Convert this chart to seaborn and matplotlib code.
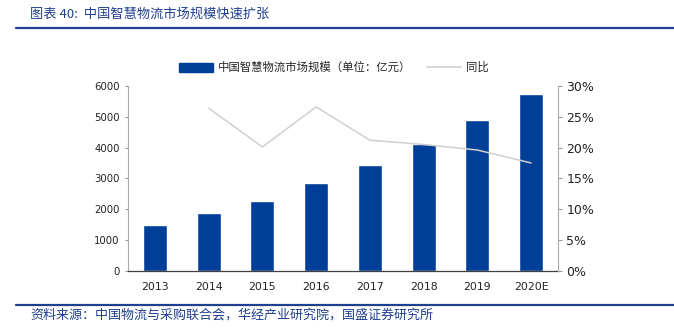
import numpy as np
import pandas as pd
import matplotlib
matplotlib.use("Agg")
import matplotlib.pyplot as plt
import seaborn as sns
from matplotlib.patches import Patch
from matplotlib.lines import Line2D
from matplotlib.ticker import FuncFormatter, FixedLocator

years = ["2013", "2014", "2015", "2016", "2017", "2018", "2019", "2020E"]
market = [1500, 1890, 2250, 2840, 3420, 4110, 4900, 5750]
yoy_years = ["2014", "2015", "2016", "2017", "2018", "2019", "2020E"]
yoy = [26.4, 20.1, 26.6, 21.2, 20.5, 19.6, 17.5]

title = "图表 40:  中国智慧物流市场规模快速扩张"
bar_label = "中国智慧物流市场规模（单位：亿元）"
line_label = "同比"
source = "资料来源：中国物流与采购联合会，华经产业研究院，国盛证券研究所"

sns.set_theme(style="white")
plt.rcParams['font.family'] = ['DejaVu Sans', 'Noto Sans CJK SC']

BAR = "#003F98"
LINE = "#D0D0D0"
HEAD = "#1F3F8F"

fig = plt.figure(figsize=(6.74, 3.32), dpi=100)
ax = fig.add_axes([128/674, 1-270.7/332, 430/674, (270.7-86)/332])

df = pd.DataFrame({"year": years, "value": market})
sns.barplot(data=df, x="year", y="value", color=BAR, width=0.45, ax=ax, saturation=1)
ax.set_xlim(-0.5, len(years)-0.5)
ax.set_ylim(0, 6000)
ax.set_yticks(np.arange(0, 6001, 1000))
ax.set_xlabel("")
ax.set_ylabel("")
ax.tick_params(axis="y", labelsize=7.3, length=2, width=0.8, color="#999999", direction="out", pad=4, labelcolor="#222222")
ax.tick_params(axis="x", which="major", labelsize=7.8, length=0, pad=8, labelcolor="#222222")
ax.xaxis.set_minor_locator(FixedLocator(np.arange(-0.5, len(years), 1.0)))
ax.tick_params(axis="x", which="minor", length=3, width=0.8, color="#999999", direction="in")
ax.spines["top"].set_visible(False)
ax.spines["left"].set_color("#AAAAAA")
ax.spines["left"].set_linewidth(0.8)
ax.spines["right"].set_visible(False)
ax.spines["bottom"].set_color("#404040")
ax.spines["bottom"].set_linewidth(0.9)

ax2 = ax.twinx()
ldf = pd.DataFrame({"pos": [years.index(y) for y in yoy_years], "yoy": yoy})
sns.lineplot(data=ldf, x="pos", y="yoy", color=LINE, linewidth=1.1, ax=ax2)
ax2.set_ylim(0, 30)
ax2.set_xlim(-0.5, len(years)-0.5)
ax2.set_yticks(np.arange(0, 31, 5))
ax2.yaxis.set_major_formatter(FuncFormatter(lambda v, p: f"{int(v)}%"))
ax2.set_ylabel("")
ax2.tick_params(axis="y", labelsize=9, length=3, width=0.8, color="#999999", direction="out", pad=3, labelcolor="#222222")
for s in ["top", "left", "bottom"]:
    ax2.spines[s].set_visible(False)
ax2.spines["right"].set_color("#AAAAAA")
ax2.spines["right"].set_linewidth(0.8)

handles = [Patch(facecolor=BAR, edgecolor=BAR), Line2D([0], [0], color=LINE, lw=1.1)]
fig.legend(handles, [bar_label, line_label], loc="center", bbox_to_anchor=(334/674, 1-67.5/332),
           ncol=2, frameon=False, handlelength=3.0, handleheight=0.8,
           handletextpad=0.4, columnspacing=1.4,
           prop={"family": ["Noto Sans CJK SC"], "size": 8.2})

fig.text(30/674, 1-14/332, title, color=HEAD, fontsize=9.5, va="center", ha="left",
         family=["Noto Sans CJK SC"], style="italic")
fig.add_artist(Line2D([16/674, 1.0], [1-28/332, 1-28/332], color=HEAD, lw=1.6))
fig.add_artist(Line2D([16/674, 1.0], [1-305/332, 1-305/332], color=HEAD, lw=1.6))
fig.text(30/674, 1-315/332, source, color=HEAD, fontsize=9.4, va="center", ha="left",
         family=["Noto Sans CJK SC"], style="italic")

fig.savefig("out.png", dpi=100)
